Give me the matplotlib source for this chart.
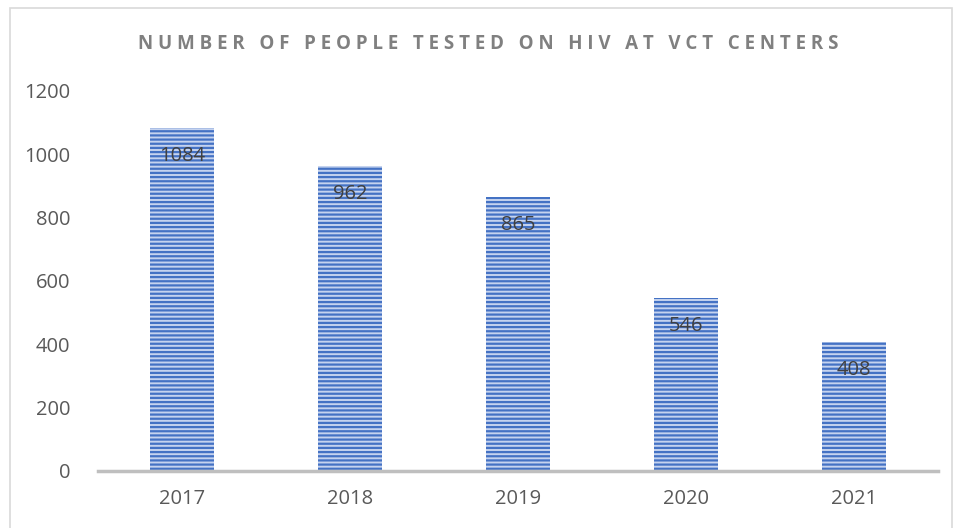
import matplotlib
matplotlib.use("Agg")
import matplotlib.pyplot as plt
from matplotlib.patches import Rectangle

years = ["2017", "2018", "2019", "2020", "2021"]
tested = [1084, 962, 865, 546, 408]
title = "NUMBER OF PEOPLE TESTED ON HIV AT VCT CENTERS"

plt.rcParams['font.family'] = ['Open Sans', 'DejaVu Sans']
plt.rcParams['hatch.linewidth'] = 1.6
plt.rcParams['hatch.color'] = '#4472c4'

fig = plt.figure(figsize=(9.55, 5.28), dpi=100)
ax = fig.add_axes([98 / 955, 57 / 528, 840 / 955, 380 / 528])

x = range(len(years))
bars = ax.bar(x, tested, width=0.38, color='#c5d3ef', edgecolor='#4472c4',
              hatch='----', linewidth=0)

for xi, v in zip(x, tested):
    ax.annotate(str(v), (xi, v), xytext=(0, -20), textcoords='offset points',
                ha='center', va='center', fontsize=14.5, color='#404040')

ax.set_xlim(-0.5, 4.5)
ax.set_ylim(0, 1200)
ax.set_yticks(range(0, 1201, 200))
ax.set_xticks(list(x))
ax.set_xticklabels(years)
for s in ['top', 'right', 'left']:
    ax.spines[s].set_visible(False)
ax.spines['bottom'].set_color('#bfbfbf')
ax.spines['bottom'].set_linewidth(2.5)
ax.tick_params(axis='both', length=0, labelsize=14.5, colors='#595959')
ax.tick_params(axis='y', pad=20)
ax.tick_params(axis='x', pad=13)

spaced = "   ".join(" ".join(w) for w in title.split())
fig.text(488 / 955, 1 - 44 / 528, spaced, ha='center', va='center',
         fontsize=13.5, fontweight='bold', color='#808080')

fig.patches.append(Rectangle((10 / 955, -0.01), 942 / 955, 1 - 8 / 528 + 0.01,
                             transform=fig.transFigure, fill=False,
                             edgecolor='#d9d9d9', linewidth=1.2))

fig.savefig("out.png", dpi=100)
